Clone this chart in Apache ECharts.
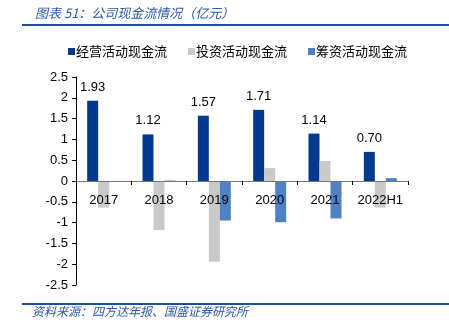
<!DOCTYPE html>
<html><head><meta charset="utf-8">
<script src="https://cdn.jsdelivr.net/npm/echarts@6/dist/echarts.min.js"></script>
<style>html,body{margin:0;padding:0;background:#fff}#c{width:449px;height:328px}</style>
</head><body><div id="c"></div>
<script>
const categories = ['2017','2018','2019','2020','2021','2022H1'];
const operating = [1.93, 1.12, 1.57, 1.71, 1.14, 0.70];
const investing = [-0.64, -1.18, -1.94, 0.31, 0.48, -0.64];
const financing = [-0.02, 0.01, -0.95, -0.99, -0.90, 0.07];
const seriesNames = ['经营活动现金流','投资活动现金流','筹资活动现金流'];
const yTicks = [-2.5,-2,-1.5,-1,-0.5,0,0.5,1,1.5,2,2.5];

const font = '"Noto Sans CJK SC", "Liberation Sans", sans-serif';
const blueText = '#2a5aa8';
const chart = echarts.init(document.getElementById('c'), null, {renderer:'canvas'});
chart.setOption({
  animation:false,
  title:{text:'图表 51：公司现金流情况（亿元）', left:30, top:2,
    textStyle:{fontSize:13, fontStyle:'italic', fontWeight:'normal', color:blueText, fontFamily:font}},
  graphic:[
    {type:'line', shape:{x1:22,y1:25,x2:449,y2:25}, style:{stroke:'#1f4e9a', lineWidth:2}},
    {type:'line', shape:{x1:22,y1:304,x2:449,y2:304}, style:{stroke:'#1f4e9a', lineWidth:2}},
    {type:'text', left:32, top:305, style:{text:'资料来源：四方达年报、国盛证券研究所', fontSize:12, fontStyle:'italic', fill:blueText, fontFamily:font}}
  ],
  legend:{top:40, left:63, itemWidth:7, itemHeight:7, itemGap:21, icon:'rect',
    textStyle:{fontSize:13, color:'#000', fontFamily:font, padding:[0,0,0,-4]}},
  grid:{left:76, right:41, top:77, bottom:43},
  xAxis:{type:'category', data:categories, z:5,
    axisLine:{onZero:true, lineStyle:{color:'#777', width:1}},
    axisTick:{show:true, length:4, lineStyle:{color:'#000'}},
    axisLabel:{interval:0, hideOverlap:false, fontSize:13, color:'#000', margin:-91, fontFamily:'"Liberation Sans", sans-serif'}},
  yAxis:{type:'value', min:-2.5, max:2.5, interval:0.5,
    axisLine:{show:true, lineStyle:{color:'#000'}},
    axisTick:{show:true, length:4, lineStyle:{color:'#000'}},
    splitLine:{show:false},
    axisLabel:{fontSize:13, color:'#000', margin:8, fontFamily:'"Liberation Sans", sans-serif',
      formatter:v=>String(yTicks.find(t=>Math.abs(t-v)<1e-9) ?? v)}},
  series:[
    {name:seriesNames[0], type:'bar', data:operating, barWidth:11, barGap:'0%',
      itemStyle:{color:'#003a8f'},
      label:{show:true, position:'top', distance:7, fontSize:13, color:'#000',
        fontFamily:'"Liberation Sans", sans-serif', formatter:p=>p.value.toFixed(2)}},
    {name:seriesNames[1], type:'bar', data:investing, barWidth:11, barGap:'0%',
      itemStyle:{color:'#c9c9c9'}},
    {name:seriesNames[2], type:'bar', data:financing, barWidth:11, barGap:'0%',
      itemStyle:{color:'#4f81c4'}}
  ]
});
</script></body></html>
